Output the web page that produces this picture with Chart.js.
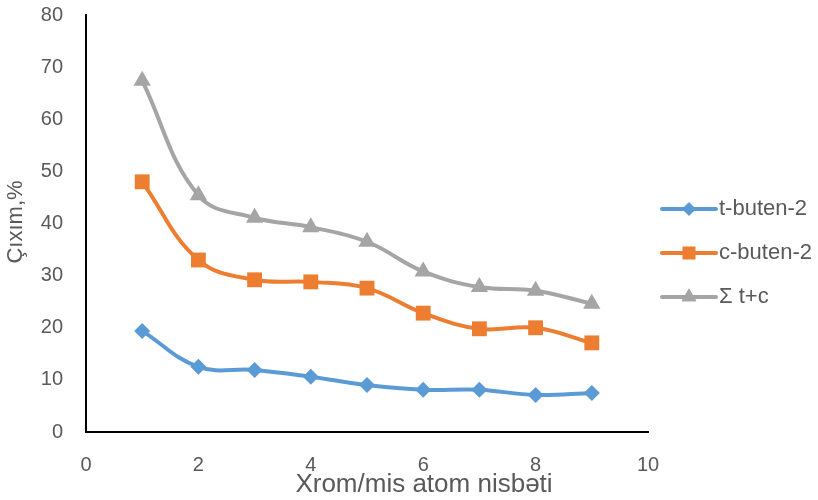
<!DOCTYPE html>
<html><head><meta charset="utf-8">
<script src="https://cdn.jsdelivr.net/npm/chart.js@4/dist/chart.umd.min.js"></script>
<style>html,body{margin:0;padding:0;background:#fff}#wrap{width:818px;height:500px}</style>
</head><body><div id="wrap"><canvas id="c" width="818" height="500"></canvas></div>
<script>
const xValues = [1,2,3,4,5,6,7,8,9];
const tButen = [19.4,12.5,11.9,10.6,9.0,8.1,8.1,7.1,7.5];
const cButen = [48.0,33.0,29.2,28.8,27.6,22.8,19.8,20.0,17.1];
const sumTC = [67.4,45.4,41.1,39.3,36.5,30.8,27.8,27.1,24.6];
const seriesNames = ['t-buten-2','c-buten-2','Σ t+c'];
const xTicks = [0,2,4,6,8,10];
const yTicks = [0,10,20,30,40,50,60,70,80];
const xTitle = 'Xrom/mis atom nisbəti';
const yTitle = 'Çıxım,%';

const colors = ['#5B9BD5','#ED7D31','#A5A5A5'];
const styles = ['rectRot','rect','triangle'];
const radii = [8,10.5,10];
const FONT = 'Liberation Sans';

function pts(arr){return xValues.map((x,i)=>({x:x,y:arr[i]}));}
const datasets = [tButen,cButen,sumTC].map((arr,i)=>({
  label: seriesNames[i], data: pts(arr), showLine:true, borderColor:colors[i], backgroundColor:colors[i],
  borderWidth:4, pointStyle:styles[i], pointRadius:radii[i], pointHoverRadius:radii[i], tension:0.4, pointBorderWidth:0
}));

const legendPlugin = {
  id:'customLegend',
  afterDraw(chart){
    const ctx = chart.ctx;
    const x0 = 662, x1 = 716, ys = [209,253,297];
    datasets.forEach((d,i)=>{
      ctx.save();
      ctx.strokeStyle = d.borderColor; ctx.lineWidth = 4; ctx.lineCap='round';
      ctx.beginPath(); ctx.moveTo(x0,ys[i]); ctx.lineTo(x1,ys[i]); ctx.stroke();
      ctx.fillStyle = d.backgroundColor;
      ctx.beginPath();
      const r = d.pointRadius*0.85;
      Chart.helpers.drawPoint(ctx,{pointStyle:d.pointStyle,rotation:0,borderWidth:0,radius:r},(x0+x1)/2,ys[i]);
      ctx.fill();
      ctx.fillStyle='#595959'; ctx.font='22px "'+FONT+'"'; ctx.textBaseline='middle'; ctx.textAlign='left';
      ctx.fillText(d.label, x1+3, ys[i]);
      ctx.restore();
    });
    ctx.save();
    ctx.fillStyle='#595959'; ctx.font='26px "'+FONT+'"'; ctx.textBaseline='middle'; ctx.textAlign='center';
    ctx.fillText(xTitle, 424, 485);
    ctx.translate(16, 222); ctx.rotate(-Math.PI/2);
    ctx.font='22px "'+FONT+'"';
    ctx.fillText(yTitle, 0, 0);
    ctx.restore();
  }
};

new Chart(document.getElementById('c'),{
  type:'scatter',
  data:{datasets},
  plugins:[legendPlugin],
  options:{
    responsive:false, animation:false, devicePixelRatio:1,
    layout:{padding:{top:15,right:170,left:0,bottom:0}},
    plugins:{legend:{display:false},tooltip:{enabled:false}},
    scales:{
      x:{type:'linear',min:0,max:10,
        afterBuildTicks(s){s.ticks = xTicks.map(v=>({value:v}));},
        afterFit(s){s.height=68; s.paddingLeft=0; s.paddingRight=0;},
        grid:{display:false,drawTicks:false},
        border:{display:true,color:'#000',width:2},
        ticks:{color:'#595959',font:{family:FONT,size:20},padding:21,maxRotation:0}
      },
      y:{min:0,max:80,
        afterBuildTicks(s){s.ticks = yTicks.map(v=>({value:v}));},
        afterFit(s){s.width=86; s.paddingTop=0; s.paddingBottom=0;},
        grid:{display:false,drawTicks:false},
        border:{display:true,color:'#000',width:2},
        ticks:{color:'#595959',font:{family:FONT,size:20},padding:23}
      }
    }
  }
});
</script></body></html>
